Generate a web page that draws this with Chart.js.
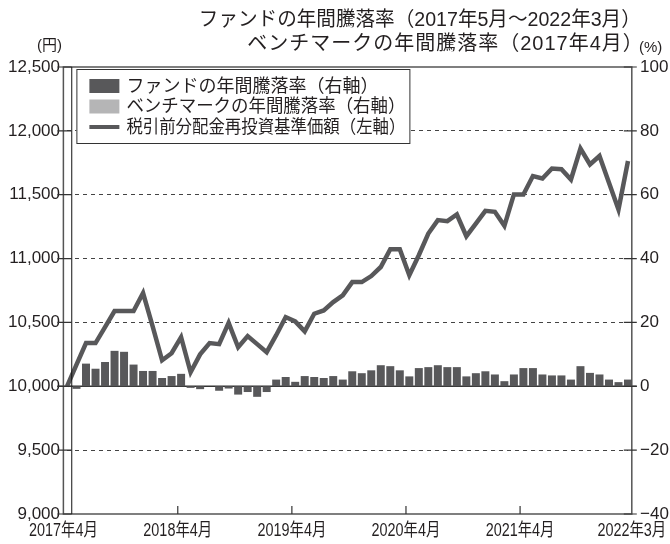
<!DOCTYPE html>
<html lang="ja">
<head>
  <meta charset="UTF-8" />
  <title>基準価額と年間騰落率</title>
  <script src="https://cdn.jsdelivr.net/npm/chart.js"></script>
  <style>
    html, body { margin: 0; padding: 0; background: #fff; }
    /* キャンバスを画面サイズぴったりに */
    .chart-wrapper { width: 670px; height: 544px; }
  </style>
</head>
<body>
<div class="chart-wrapper">
  <canvas id="kijunChart"></canvas>
</div>

<script>
  // 月次カテゴリ（2017年4月〜2022年3月）
  const months = [];
  for (let i = 0; i < 60; i++) {
    const m = (3 + i) % 12 + 1;
    const y = 2017 + Math.floor((3 + i) / 12);
    months.push(y + '年' + m + '月');
  }
  const tickMonths = ['2017年4月', '2018年4月', '2019年4月', '2020年4月', '2021年4月', '2022年3月'];

  // 税引前分配金再投資基準価額（円）
  const navValues = [
    10000, 10169, 10338, 10338, 10463, 10589, 10589, 10589, 10730, 10471,
    10204, 10259, 10385, 10110, 10250, 10338, 10330, 10497, 10306, 10393,
    10330, 10267, 10400, 10542, 10508, 10430, 10568, 10594, 10659, 10712,
    10816, 10816, 10863, 10934, 11073, 11073, 10869, 11026, 11196, 11301,
    11293, 11345, 11175, 11274, 11374, 11366, 11256, 11502, 11502, 11646,
    11627, 11705, 11700, 11619, 11862, 11737, 11803, 11594, 11384, 11764
  ];
  // ファンドの年間騰落率（%）2017年5月〜
  const fundReturn = [
    null, -0.8, 7.1, 5.5, 7.6, 11.1, 10.8, 6.8, 4.8, 4.8,
    2.6, 3.2, 3.9, -0.5, -0.9, 0, -1.4, -0.7, -2.6, -1.8,
    -3.3, -1.8, 2.1, 2.9, 1.4, 3.2, 2.9, 2.6, 3.2, 2.1,
    4.7, 4.1, 5.0, 6.6, 6.3, 5.0, 3.1, 5.7, 6.0, 6.6,
    6.0, 6.0, 3.1, 4.1, 4.7, 3.7, 1.6, 3.7, 5.7, 5.7,
    3.7, 3.4, 3.4, 2.1, 6.3, 4.2, 3.7, 2.1, 1.3, 2.1
  ];
  // ベンチマークの年間騰落率（%）2017年4月のみ
  const benchReturn = [0];

  const fundLabel = 'ファンドの年間騰落率（右軸）';
  const benchLabel = 'ベンチマークの年間騰落率（右軸）';
  const navLabel = '税引前分配金再投資基準価額（左軸）';
  const titleLines = ['ファンドの年間騰落率（2017年5月～2022年3月）', 'ベンチマークの年間騰落率（2017年4月）'];
  const leftUnit = '(円)';
  const rightUnit = '(%)';

  const FONT = '"Liberation Sans", Arial, "Noto Sans CJK JP", sans-serif';
  const TEXT = '#231f20';
  const DARK = '#58585a';
  const LIGHT = '#b5b5b6';

  // 枠・目盛・凡例・タイトルを描くプラグイン
  const decorPlugin = {
    id: 'decor',
    edges(chart) {
      const x = chart.scales.x;
      const step = x.getPixelForValue(1) - x.getPixelForValue(0);
      return {
        step: step,
        left: x.getPixelForValue(0) - step * 0.38,
        right: x.getPixelForValue(months.length - 1) + step * 0.4,
        vline: x.getPixelForValue(0) + step * 0.5
      };
    },
    beforeDatasetsDraw(chart) {
      const { ctx, scales: { yRight } } = chart;
      const e = this.edges(chart);
      const y0 = yRight.getPixelForValue(0);
      ctx.save();
      ctx.strokeStyle = '#333';
      ctx.lineWidth = 1.5;
      ctx.beginPath();
      ctx.moveTo(e.left - 6, y0);
      ctx.lineTo(e.right + 5, y0);
      ctx.stroke();
      ctx.restore();
    },
    afterDatasetsDraw(chart) {
      const { ctx, chartArea, scales: { x, yLeft } } = chart;
      const e = this.edges(chart);
      ctx.save();
      // 外枠
      ctx.strokeStyle = '#555';
      ctx.lineWidth = 1.5;
      ctx.strokeRect(e.left, chartArea.top, e.right - e.left, chartArea.bottom - chartArea.top);
      // 2017年4月の区切り線
      ctx.strokeStyle = '#111';
      ctx.lineWidth = 1;
      ctx.beginPath();
      ctx.moveTo(e.vline, chartArea.top);
      ctx.lineTo(e.vline, chartArea.bottom);
      ctx.stroke();
      // 縦軸の目盛
      ctx.strokeStyle = '#333';
      ctx.lineWidth = 1.2;
      yLeft.ticks.forEach(t => {
        const py = yLeft.getPixelForValue(t.value);
        ctx.beginPath();
        ctx.moveTo(e.left - 6, py);
        ctx.lineTo(e.vline, py);
        ctx.moveTo(e.right - 8, py);
        ctx.lineTo(e.right + 5, py);
        ctx.stroke();
      });
      // 横軸の目盛（内向き）とラベル（長体）
      ctx.fillStyle = TEXT;
      ctx.font = '18px ' + FONT;
      ctx.textAlign = 'center';
      ctx.textBaseline = 'middle';
      months.forEach((m, i) => {
        if (!tickMonths.includes(m)) return;
        let px = x.getPixelForValue(i) - e.step * 0.35;
        if (i === 0) px = e.left;
        if (i === months.length - 1) px = e.right;
        if (i !== 0 && i !== months.length - 1) {
          ctx.beginPath();
          ctx.moveTo(px, chartArea.bottom);
          ctx.lineTo(px, chartArea.bottom - 8);
          ctx.stroke();
        }
        ctx.save();
        ctx.translate(px, chartArea.bottom + 17);
        ctx.scale(0.8, 1);
        ctx.fillText(m, 0, 0);
        ctx.restore();
      });
      ctx.restore();
    },
    afterDraw(chart) {
      const { ctx, chartArea } = chart;
      const e = this.edges(chart);
      ctx.save();
      ctx.fillStyle = TEXT;
      ctx.textBaseline = 'middle';
      // タイトル
      ctx.font = '20px ' + FONT;
      ctx.textAlign = 'right';
      ctx.fillText(titleLines[0], e.right + 9, 20, 442);
      ctx.letterSpacing = '1px';
      ctx.fillText(titleLines[1], e.right + 12, 44);
      ctx.letterSpacing = '0px';
      // 単位
      ctx.font = '15px ' + FONT;
      ctx.textAlign = 'right';
      ctx.fillText(leftUnit, 62, 46);
      ctx.textAlign = 'left';
      ctx.fillText(rightUnit, 639, 48);
      // 凡例
      const box = { x: e.left + 13, y: chartArea.top + 2, w: 333, h: 74 };
      ctx.fillStyle = '#fff';
      ctx.fillRect(box.x, box.y, box.w, box.h);
      ctx.strokeStyle = '#333';
      ctx.lineWidth = 1;
      ctx.strokeRect(box.x + 0.5, box.y + 0.5, box.w, box.h);
      const order = [1, 2, 0];
      ctx.font = '18px ' + FONT;
      ctx.textAlign = 'left';
      order.forEach((di, r) => {
        const ds = chart.data.datasets[di];
        const cy = box.y + 17 + r * 20.5;
        if (ds.type === 'line') {
          ctx.strokeStyle = ds.borderColor;
          ctx.lineWidth = 4;
          ctx.beginPath();
          ctx.moveTo(box.x + 13, cy);
          ctx.lineTo(box.x + 43, cy);
          ctx.stroke();
        } else {
          ctx.fillStyle = ds.backgroundColor;
          ctx.fillRect(box.x + 13, cy - 7, 30, 14);
        }
        ctx.fillStyle = TEXT;
        ctx.fillText(ds.label, box.x + 50, cy + 1, box.w - 54);
      });
      ctx.restore();
    }
  };

  const dataChart = {
    labels: months,
    datasets: [
      {
        type: 'line',
        label: navLabel,
        data: navValues,
        yAxisID: 'yLeft',
        borderColor: DARK,
        borderWidth: 4.5,
        pointRadius: 0,
        tension: 0,
        clip: false,
        order: 0
      },
      {
        type: 'bar',
        label: fundLabel,
        data: fundReturn,
        yAxisID: 'yRight',
        backgroundColor: DARK,
        grouped: false,
        barPercentage: 0.84,
        categoryPercentage: 1,
        clip: false,
        order: 1
      },
      {
        type: 'bar',
        label: benchLabel,
        data: benchReturn,
        yAxisID: 'yRight',
        backgroundColor: LIGHT,
        grouped: false,
        barPercentage: 0.84,
        categoryPercentage: 1,
        clip: false,
        order: 2
      }
    ]
  };

  const config = {
    type: 'bar',
    data: dataChart,
    options: {
      responsive: true,
      maintainAspectRatio: false,
      animation: false,
      layout: { padding: { top: 67, left: 0, right: 0, bottom: 0 } },
      plugins: { legend: { display: false }, tooltip: { enabled: false } },
      scales: {
        x: {
          type: 'category',
          offset: false,
          grid: { display: false },
          border: { display: false },
          ticks: { display: false },
          afterFit: s => { s.height = 30; }
        },
        yLeft: {
          position: 'left',
          min: 9000,
          max: 12500,
          ticks: {
            stepSize: 500,
            padding: 7,
            color: TEXT,
            font: { family: FONT, size: 17 },
            callback: v => v.toLocaleString('en-US')
          },
          grid: {
            drawTicks: false,
            lineWidth: 1,
            color: c => [9000, 10000, 12500].includes(c.tick.value) ? 'rgba(0,0,0,0)' : '#444'
          },
          border: { display: false, dash: [4, 4] },
          afterFit: s => { s.width = 67; }
        },
        yRight: {
          position: 'right',
          min: -40,
          max: 100,
          ticks: {
            stepSize: 20,
            padding: 12,
            color: TEXT,
            font: { family: FONT, size: 17 },
            callback: v => v < 0 ? '−' + Math.abs(v) : String(v)
          },
          grid: { display: false, drawTicks: false },
          border: { display: false },
          afterFit: s => { s.width = 42; }
        }
      }
    },
    plugins: [decorPlugin]
  };

  new Chart(document.getElementById('kijunChart').getContext('2d'), config);
</script>
</body>
</html>
